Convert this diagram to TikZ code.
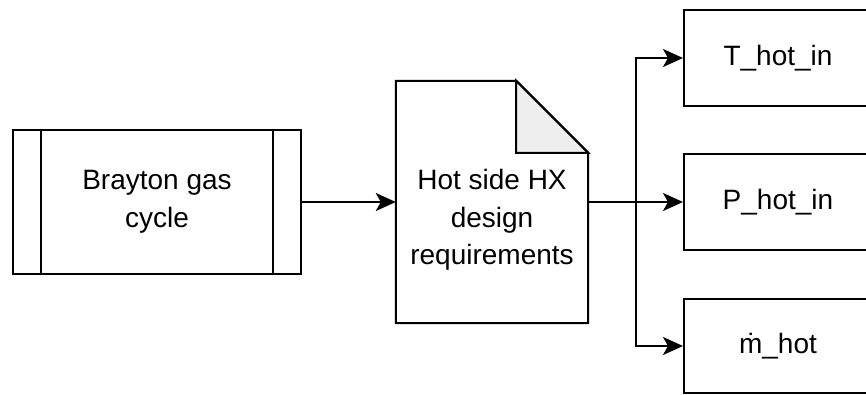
\documentclass[tikz,border=0pt]{standalone}
\usepackage{fontspec}
\setmainfont{Liberation Sans}
\usetikzlibrary{arrows.meta}

\begin{document}
\begin{tikzpicture}[x=1pt,y=1pt,
  box/.style={draw=black, line width=2pt, minimum width=#1, inner sep=0pt},
  lbl/.style={font=\fontsize{28}{37.5}\selectfont, align=center},
  flow/.style={line width=2pt, -{Stealth[length=20pt,width=18pt,inset=5pt]}}]
\clip (0,0) rectangle (866,394);
% source block
\node[box=288, minimum height=144, lbl] (cycle) at (157,192) {Brayton gas\\cycle};
\draw[line width=2pt] ([xshift=29]cycle.north west) -- ([xshift=29]cycle.south west);
\draw[line width=2pt] ([xshift=-29]cycle.north east) -- ([xshift=-29]cycle.south east);
% requirements document
\node[minimum width=192, minimum height=242, inner sep=0pt] (req) at (492,192) {};
\draw[line width=2pt, fill=white] (req.north west) -- ([xshift=-72]req.north east)
  -- ([yshift=-72]req.north east) -- (req.south east) -- (req.south west) -- cycle;
\draw[line width=2pt, fill=gray!13] ([xshift=-72]req.north east)
  |- ([yshift=-72]req.north east) -- cycle;
\node[lbl] (reqtext) at ([yshift=-18]req.center) {Hot side HX\\design\\requirements};
% outputs
\node[box=188, minimum height=96, lbl] (thot) at (778,336) {T\_hot\_in};
\node[box=188, minimum height=96, lbl] (phot) at (778,192) {P\_hot\_in};
\node[box=188, minimum height=94, lbl] (mhot) at (778,48) {ṁ\_hot};
\coordinate (split) at (636,192);
\draw[flow] (cycle.east) -- (req.west);
\draw[flow] (req.east) -- (phot.west);
\draw[flow] (split) |- (thot.west);
\draw[flow] (split) |- (mhot.west);
\end{tikzpicture}
\end{document}
